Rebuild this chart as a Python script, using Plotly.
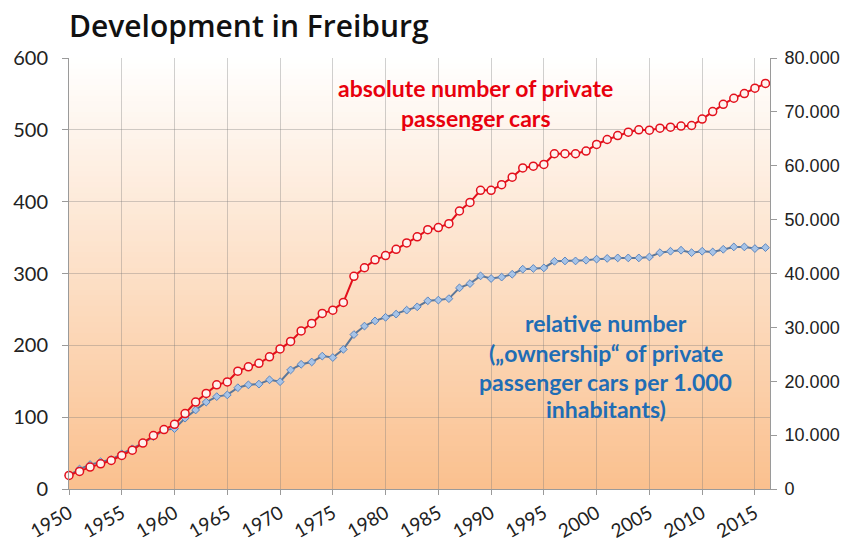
import plotly.graph_objects as go

years = list(range(1950, 2017))

# absolute number of private passenger cars (right axis)
absolute_cars = [
    2520, 3270, 4070, 4670, 5290, 6230, 7200, 8530, 9930, 11040,
    12000, 14000, 16130, 17730, 19330, 19870, 21870, 22670, 23330, 24530,
    26000, 27400, 29330, 30730, 32590, 33200, 34630, 39470, 41070, 42530,
    43330, 44490, 45670, 46800, 48130, 48530, 49250, 51600, 53200, 55430,
    55430, 56480, 57870, 59600, 59920, 60240, 62230, 62230, 62230, 62730,
    63950, 64870, 65600, 66230, 66670, 66600, 66970, 67150, 67370, 67470,
    68670, 70050, 71400, 72530, 73400, 74400, 75290,
]

# cars per 1.000 inhabitants (left axis)
ownership = [
    19, 27.8, 34, 38, 41, 49, 56, 64, 73, 82,
    84, 98.6, 110, 121, 128.6, 131, 141, 145, 146, 152,
    149.4, 165.7, 173.6, 176.8, 185, 183, 194.4, 215, 226.8, 234,
    239, 243.5, 249, 253.6, 262, 263, 265, 280, 286, 296.7,
    293, 295, 299, 306, 307, 307.8, 317, 317.5, 317.5, 318.5,
    320, 321, 321.7, 321.7, 321.7, 323, 329, 331, 332.4, 329,
    331, 330, 333.7, 337, 337, 334.7, 336,
]

x_tick_years = list(range(1950, 2016, 5))
left_ticks = [0, 100, 200, 300, 400, 500, 600]
right_ticks = [0, 10000, 20000, 30000, 40000, 50000, 60000, 70000, 80000]

title_text = "Development in Freiburg"
red_label = ["absolute number of private", "passenger cars"]
blue_label = ["relative number", "(„ownership“ of private", "passenger cars per 1.000", "inhabitants)"]

W, H = 842, 546
L, R, T, B = 68.5, 770.5, 58, 489.3

fig = go.Figure()

fig.add_trace(go.Scatter(
    x=years, y=ownership, mode="lines+markers", yaxis="y",
    line=dict(color="#5C7799", width=2),
    marker=dict(symbol="diamond", size=6, color="#A7C3E6",
                line=dict(color="#5B86C0", width=1)),
    showlegend=False, cliponaxis=False,
))
fig.add_trace(go.Scatter(
    x=years, y=absolute_cars, mode="lines+markers", yaxis="y2",
    line=dict(color="#E3101C", width=2),
    marker=dict(symbol="circle", size=8, color="#FFF2EE",
                line=dict(color="#E3101C", width=1.5)),
    showlegend=False, cliponaxis=False,
))

# gradient background strips
n = 80
top = (255, 255, 255)
bot = (250, 192, 142)
shapes = []
for i in range(n):
    t = (i + 0.5) / n  # 0 bottom -> 1 top
    c = tuple(round(bot[k] + (top[k] - bot[k]) * t) for k in range(3))
    shapes.append(dict(
        type="rect", xref="x domain", yref="y domain",
        x0=0, x1=1, y0=i / n, y1=(i + 1) / n + 0.002,
        fillcolor="rgb(%d,%d,%d)" % c, line=dict(width=0), layer="below",
    ))

def px_x(px):
    return (px - L) / (R - L)

def px_y(py):
    return (B - py) / (B - T)

annotations = [dict(
    text=title_text, xref="paper", yref="paper", x=px_x(66), y=px_y(25),
    xanchor="left", yanchor="middle", showarrow=False,
    font=dict(family="Open Sans", size=30, color="#111111", weight=600),
)]
for txt, py in zip(red_label, [88, 118]):
    annotations.append(dict(
        text=txt, xref="paper", yref="paper", x=px_x(476), y=px_y(py),
        xanchor="center", yanchor="middle", showarrow=False,
        font=dict(family="Lato", size=23, color="#E8000D", weight="bold"),
    ))
for txt, py in zip(blue_label, [323, 353, 382, 409]):
    annotations.append(dict(
        text=txt, xref="paper", yref="paper", x=px_x(606), y=px_y(py),
        xanchor="center", yanchor="middle", showarrow=False,
        font=dict(family="Lato", size=23, color="#1F6DB5", weight="bold"),
    ))

grid = "rgba(120,120,120,0.35)"
fig.update_layout(
    width=W, height=H,
    margin=dict(l=L, r=W - R, t=T, b=H - B, pad=0, autoexpand=False),
    paper_bgcolor="white", plot_bgcolor="rgba(0,0,0,0)",
    separators=",.",
    shapes=shapes, annotations=annotations,
    xaxis=dict(
        range=[1950, 2016.43], tickmode="array", tickvals=x_tick_years,
        ticktext=[str(v) for v in x_tick_years], tickangle=-30,
        showgrid=True, gridcolor=grid, gridwidth=1, automargin=False,
        showline=True, linecolor="#9A9A9A", linewidth=1,
        ticks="outside", ticklen=5, tickcolor="#9A9A9A",
        tickfont=dict(family="Lato", size=19, color="#222222"),
        zeroline=False,
    ),
    yaxis=dict(
        range=[0, 600], tickvals=left_ticks, automargin=False,
        showgrid=True, gridcolor=grid, gridwidth=1,
        showline=True, linecolor="#9A9A9A", linewidth=1,
        ticks="outside", ticklen=6, tickcolor="#9A9A9A",
        tickfont=dict(family="Lato", size=20, color="#222222"),
        ticklabelstandoff=10, zeroline=False,
    ),
    yaxis2=dict(
        range=[0, 80000], tickvals=right_ticks, tickformat=",d",
        overlaying="y", side="right", showgrid=False, automargin=False,
        showline=True, linecolor="#9A9A9A", linewidth=1,
        ticks="outside", ticklen=6, tickcolor="#9A9A9A",
        tickfont=dict(family="Liberation Sans", size=18, color="#222222"),
        ticklabelstandoff=4, zeroline=False,
    ),
)

fig.write_html(
    "out.html",
    config={"displayModeBar": False},
    post_script="document.body.style.margin='0';document.body.style.overflow='hidden';",
)
